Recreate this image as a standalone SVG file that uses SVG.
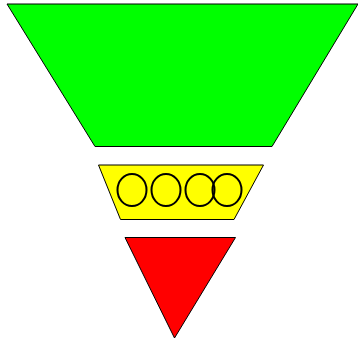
<svg xmlns="http://www.w3.org/2000/svg" width="358" height="342" viewBox="0 0 358 342">
<style>
.s{stroke:#000;stroke-width:1}
.c{fill:none;stroke:#000;stroke-width:2}
</style>
<rect width="358" height="342" fill="#fff"/>
<g id="green"><polygon class="s" fill="#00ff00" points="7,4 358,4 272,146.5 95,146.5"/></g>
<g id="yellow"><polygon class="s" fill="#ffff00" points="98.5,165 263.5,165 234,219.5 120.5,219.5"/>
<ellipse class="c" cx="132" cy="190" rx="14.5" ry="16"/>
<ellipse class="c" cx="166" cy="190" rx="14.5" ry="16"/>
<ellipse class="c" cx="200" cy="190" rx="14.5" ry="16"/>
<ellipse class="c" cx="227" cy="190" rx="14.5" ry="16"/>
</g>
<g id="red"><polygon class="s" fill="#ff0000" points="125,237.5 235.5,237.5 174.5,338"/></g>
</svg>
